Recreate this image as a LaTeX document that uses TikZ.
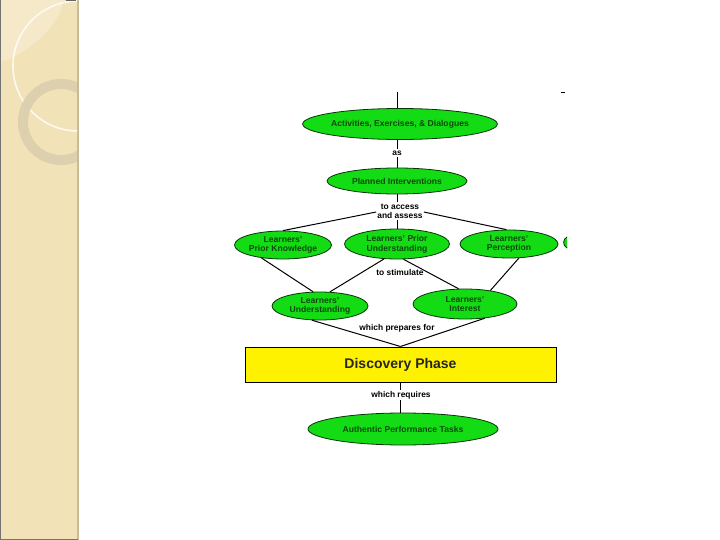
\documentclass[tikz,border=0pt]{standalone}
\usepackage{fontspec}
\setmainfont{Liberation Sans}
\usetikzlibrary{shapes.geometric}
\definecolor{panel}{HTML}{F2E2B8}
\definecolor{panelline}{HTML}{C9BA98}
\definecolor{ringc}{HTML}{DDD0AE}
\definecolor{gfill}{HTML}{14DC14}
\definecolor{gtext}{HTML}{0B4A0B}
\tikzset{
  oval/.style={ellipse, draw=gtext!70!black, line width=0.8pt, fill=gfill, inner sep=0pt,
    font=\fontsize{8.6}{9.6}\selectfont\bfseries, text=gtext, align=center},
  linklab/.style={font=\fontsize{8.4}{9.2}\selectfont\bfseries, text=black, align=center, inner sep=1pt},
  conn/.style={draw=black, line width=1pt}
}
\begin{document}
\begin{tikzpicture}[x=1pt,y=-1pt]
\useasboundingbox (0,0) rectangle (720,540);
\fill[white] (0,0) rectangle (720,540);
% left decorative panel
\begin{scope}
\clip (0,0) rectangle (78,540);
\fill[panel] (0,0) rectangle (78,540);
\fill[white,opacity=0.25] (0,62) .. controls (20,58) and (58,30) .. (64,0) -- (0,0) -- cycle;
\draw[white,opacity=0.8,line width=1.6pt] (78,66) circle[radius=65];
\draw[ringc,line width=10pt] (61,122) circle[radius=38];
\end{scope}
\draw[panelline,line width=2pt] (78,0) -- (78,540);
\draw[black!55,line width=0.8pt] (0.4,0) -- (0.4,539.5) -- (78,539.5);
\fill[black!60] (66,0) rectangle (76,1.5);
% small mark on right
\draw[black,line width=0.8pt] (561,92) -- (565,92);
% nodes
\coordinate (top) at (397,92);
\node[oval, minimum width=190, minimum height=31] (e1) at (400,124) {Activities, Exercises, \& Dialogues};
\node[linklab] (as) at (397,153) {as};
\node[oval, minimum width=140, minimum height=26] (e2) at (397,181) {Planned Interventions};
\node[linklab] (acc) at (400,211) {to access\\and assess};
\node[oval, minimum width=97, minimum height=28] (lpk) at (283,245) {Learners'\\Prior Knowledge};
\node[oval, minimum width=105, minimum height=30] (lpu) at (397,244) {Learners' Prior\\Understanding};
\node[oval, minimum width=98, minimum height=28] (lpe) at (509,244) {Learners'\\Perception};
\node[linklab] (stim) at (400,272) {to stimulate};
\node[oval, minimum width=96, minimum height=28] (lu) at (320,306) {Learners'\\Understanding};
\node[oval, minimum width=104, minimum height=30] (li) at (465,304) {Learners'\\Interest};
\node[linklab] (prep) at (397,328) {which prepares for};
\node[draw=black, line width=1pt, fill=yellow, minimum width=311, minimum height=35, inner sep=0pt,
  font=\fontsize{14}{16}\selectfont\bfseries, text=black!85] (disc) at (400.5,364.5) {Discovery Phase};
\node[linklab] (req) at (401,395) {which requires};
\node[oval, minimum width=190, minimum height=32] (apt) at (403,429) {Authentic Performance Tasks};
% partial fragment at right edge
\draw[gtext!70!black, fill=gfill, line width=0.8pt] (567,237) .. controls (563,239) and (562,245) .. (567,248);
% connectors
\draw[conn] (top) -- (e1.north -| top);
\draw[conn] (e1.south -| as) -- (as.north);
\draw[conn] (as.south) -- (e2.north -| as);
\draw[conn] (e2.south) -- (acc.north -| e2.south);
\draw[conn] (acc.south -| lpu.north) -- (lpu.north);
\draw[conn] ([yshift=-1pt]acc.west) -- (lpk.north);
\draw[conn] ([yshift=-1pt]acc.east) -- (lpe.100);
\draw[conn] (lpk.211) -- (lu.116);
\draw[conn] (lpu.229) -- (lu.55);
\draw[conn] (lpu.293) -- (li.113);
\draw[conn] (lpe.305) -- (li.28);
\draw[conn] (lu.240) -- (disc.north);
\draw[conn] (li.324) -- (disc.north);
\draw[conn] (disc.south) -- (req.north -| disc.south);
\draw[conn] (req.south -| disc.south) -- (apt.north -| disc.south);
\end{tikzpicture}
\end{document}
